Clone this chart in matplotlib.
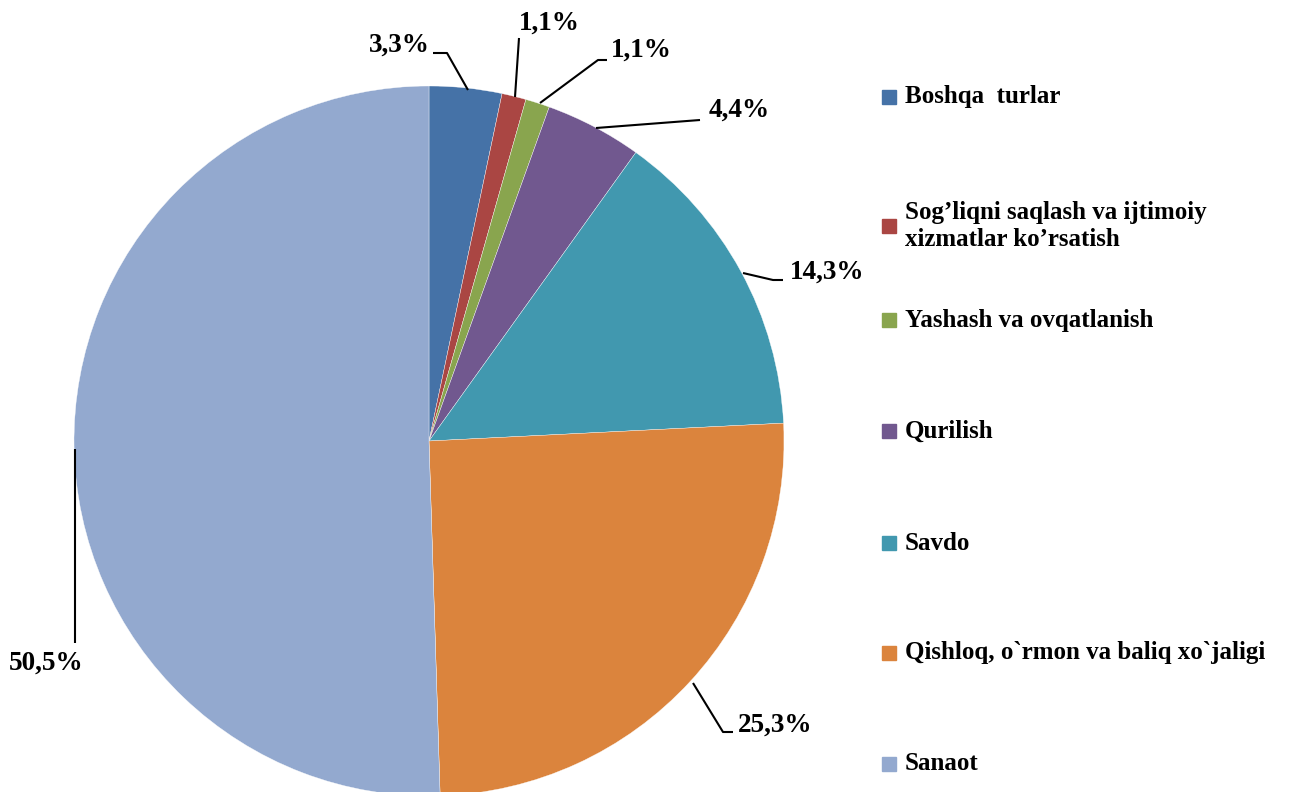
import matplotlib.pyplot as plt
from matplotlib.patches import Rectangle

categories = ["Boshqa  turlar",
              "Sog\u2019liqni saqlash va ijtimoiy\nxizmatlar ko\u2019rsatish",
              "Yashash va ovqatlanish",
              "Qurilish",
              "Savdo",
              "Qishloq, o`rmon va baliq xo`jaligi",
              "Sanaot"]
values = [3.3, 1.1, 1.1, 4.4, 14.3, 25.3, 50.5]
pct_labels = ["3,3%", "1,1%", "1,1%", "4,4%", "14,3%", "25,3%", "50,5%"]
colors = ["#4572A7", "#AA4643", "#89A54E", "#71588F", "#4198AF", "#DB843D", "#93A9CF"]

W, H = 1297, 792
fig = plt.figure(figsize=(W / 100, H / 100), dpi=100)
ax = fig.add_axes([0, 0, 1, 1])

pct_font = dict(family="Liberation Serif", weight="bold", size=19.5)
leg_font = dict(family="Liberation Serif", weight="bold", size=18)

# pie drawn in pixel coordinates (y axis inverted, so counterclock=True looks clockwise)
cx, cy, r = 429, 441, 355
wedges, _ = ax.pie(values, colors=colors, startangle=-90, counterclock=True,
                   center=(cx, cy), radius=r, frame=True,
                   wedgeprops=dict(edgecolor="white", linewidth=0.25))
ax.set_xlim(0, W)
ax.set_ylim(H, 0)
ax.set_aspect("equal")
ax.axis("off")

# leader lines (points) and label anchors
leaders = [
    [(468, 90), (447, 53), (433, 53)],
    [(515, 97), (519, 38)],
    [(540, 103), (598, 60), (607, 60)],
    [(596, 128), (700, 120)],
    [(743, 273), (773, 280), (783, 280)],
    [(693, 683), (723, 732), (733, 732)],
    [(75, 449), (75, 643)],
]
label_pos = [(430, 45, "right"), (549, 23, "center"), (611, 50, "left"),
             (709, 110, "left"), (790, 272, "left"), (738, 725, "left"),
             (46, 663, "center")]
for pts, (tx, ty, ha), lab in zip(leaders, label_pos, pct_labels):
    xs = [p[0] for p in pts]
    ys = [p[1] for p in pts]
    ax.plot(xs, ys, color="black", lw=1.5, solid_capstyle="butt")
    ax.text(tx, ty, lab, ha=ha, va="center", **pct_font)

# legend
leg_y = [97, 226, 320, 431, 543, 653, 764]
for lab, col, y in zip(categories, colors, leg_y):
    ax.add_patch(Rectangle((882, y - 7), 14, 14, color=col))
    ax.text(905, y, lab, ha="left", va="center", linespacing=1.25, **leg_font)

fig.savefig("out.png", dpi=100)
